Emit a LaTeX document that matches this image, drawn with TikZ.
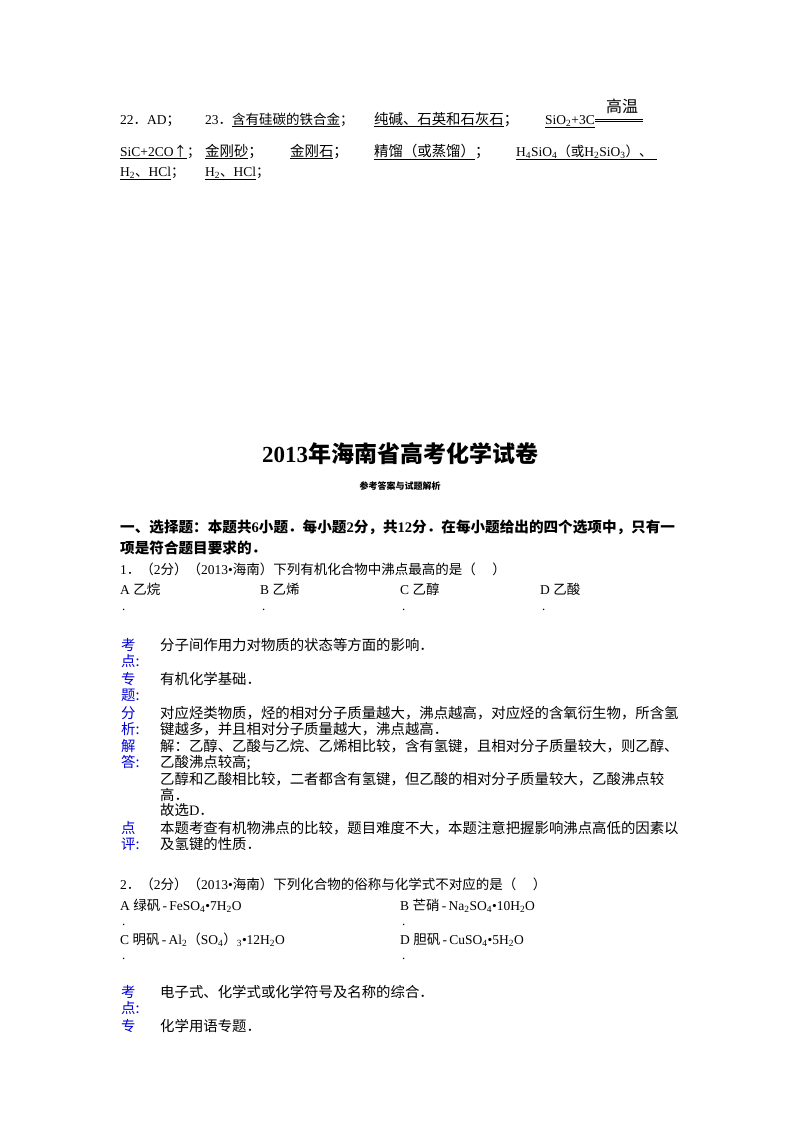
\documentclass[tikz,border=0pt]{standalone}
\usepackage{fontspec}
\setmainfont{Liberation Serif}
\newfontfamily\cjk{Noto Sans CJK SC}
\newcommand{\sbs}[1]{\textsubscript{#1}}
\newcommand{\cj}[1]{{\cjk #1}}
\begin{document}
\begin{tikzpicture}[x=1pt,y=-1pt,
  every node/.style={inner sep=0pt,anchor=base west},
  tx/.style={font=\cjk\fontsize{14.4}{17}\selectfont},
  rm/.style={font=\fontsize{13.5}{16}\selectfont},
  lab/.style={font=\cjk\fontsize{14.4}{17}\selectfont,text=blue!85!black},
  dot/.style={font=\fontsize{13}{16}\selectfont}]
\useasboundingbox (0,0) rectangle (800,1132);
% top answers
\node[rm] (a1) at (120,124) {22\cj{．}AD\cj{；}};
\node[rm] (a2) at (205,124) {23\cj{．}\underline{\cjk 含有硅碳的铁合金}\cj{；}};
\node[tx] (a3) at (374,124) {\underline{纯碱、石英和石灰石}；};
\node[rm] (a4) at (545,124) {\underline{SiO\sbs{2}+3C}};
\node[tx,anchor=base,font=\cjk\fontsize{16}{18}\selectfont] (gw) at (622,112) {高温};
\draw (a4.base east) ++(0,-5) coordinate (e1) -- ++(48,0);
\draw (e1) ++(0,2.5) -- ++(48,0);
\node[rm] (b1) at (120,156) {\underline{SiC+2CO\cj{↑}}\cj{；}};
\node[tx] (b2) at (205,156) {\underline{金刚砂}；};
\node[tx] (b3) at (290,156) {\underline{金刚石}；};
\node[tx] (b4) at (374,156) {\underline{精馏（或蒸馏）}；};
\node[rm] (b5) at (516,156) {\underline{H\sbs{4}SiO\sbs{4}\cj{（或}H\sbs{2}SiO\sbs{3}\cj{）、}\hspace{4pt}}};
\node[rm] (c1) at (120,176) {\underline{H\sbs{2}\cj{、}HCl}\cj{；}};
\node[rm] (c2) at (205,176) {\underline{H\sbs{2}\cj{、}HCl}\cj{；}};
% title
\node[anchor=base,font=\bfseries\fontsize{23}{26}\selectfont] (t) at (400,462) {2013{\cjk\bfseries 年海南省高考化学试卷}};
\node[anchor=base,font=\cjk\bfseries\fontsize{9}{10}\selectfont] (st) at (400,489) {参考答案与试题解析};
\node[font=\cjk\bfseries\fontsize{14.6}{17}\selectfont] (s1) at (120,532) {一、选择题：本题共{\rmfamily\bfseries 6}小题．每小题{\rmfamily\bfseries 2}分，共{\rmfamily\bfseries 12}分．在每小题给出的四个选项中，只有一};
\node[font=\cjk\bfseries\fontsize{14.6}{17}\selectfont] (s2) at (120,553) {项是符合题目要求的．};
% Q1
\node[rm] (q1) at (120,574) {1\cj{．（}2\cj{分）（}2013•\cj{海南）下列有机化合物中沸点最高的是（\quad\ ）}};
\node[rm] (oa) at (120,594) {A \cj{乙烷}};
\node[rm] (ob) at (260,594) {B \cj{乙烯}};
\node[rm] (oc) at (400,594) {C \cj{乙醇}};
\node[rm] (od) at (540,594) {D \cj{乙酸}};
\foreach \x in {122,262,402,542} \node[dot] at (\x,610) {.};
\node[lab] at (121,650) {考};\node[lab] at (121,666) {点:};
\node[tx] (k1) at (160,650) {分子间作用力对物质的状态等方面的影响．};
\node[lab] at (121,684) {专};\node[lab] at (121,700) {题:};
\node[tx] (z1) at (160,684) {有机化学基础．};
\node[lab] at (121,718) {分};\node[lab] at (121,734) {析:};
\node[tx] (f1) at (160,718) {对应烃类物质，烃的相对分子质量越大，沸点越高，对应烃的含氧衍生物，所含氢};
\node[tx] (f2) at (160,734) {键越多，并且相对分子质量越大，沸点越高．};
\node[lab] at (121,751) {解};\node[lab] at (121,767) {答:};
\node[tx] (j1) at (160,751) {解：乙醇、乙酸与乙烷、乙烯相比较，含有氢键，且相对分子质量较大，则乙醇、};
\node[tx] (j2) at (160,767) {乙酸沸点较高;};
\node[tx] (j3) at (160,784) {乙醇和乙酸相比较，二者都含有氢键，但乙酸的相对分子质量较大，乙酸沸点较};
\node[tx] (j4) at (160,800) {高．};
\node[tx] (j5) at (160,815) {故选{\rmfamily D}．};
\node[lab] at (121,833) {点};\node[lab] at (121,849) {评:};
\node[tx] (d1) at (160,833) {本题考查有机物沸点的比较，题目难度不大，本题注意把握影响沸点高低的因素以};
\node[tx] (d2) at (160,849) {及氢键的性质．};
% Q2
\node[rm] (q2) at (120,889) {2\cj{．（}2\cj{分）（}2013•\cj{海南）下列化合物的俗称与化学式不对应的是（\quad\ ）}};
\node[rm] (pa) at (120,910) {A \cj{绿矾}\,-\,FeSO\sbs{4}•7H\sbs{2}O};
\node[rm] (pb) at (400,910) {B \cj{芒硝}\,-\,Na\sbs{2}SO\sbs{4}•10H\sbs{2}O};
\node[rm] (pc) at (120,944) {C \cj{明矾}\,-\,Al\sbs{2}\cj{（}SO\sbs{4}\cj{）}\sbs{3}•12H\sbs{2}O};
\node[rm] (pd) at (400,944) {D \cj{胆矾}\,-\,CuSO\sbs{4}•5H\sbs{2}O};
\foreach \x in {122,402} {\node[dot] at (\x,925) {.};\node[dot] at (\x,959) {.};}
\node[lab] at (121,997) {考};\node[lab] at (121,1013) {点:};
\node[tx] (k2) at (160,997) {电子式、化学式或化学符号及名称的综合．};
\node[lab] at (121,1031) {专};
\node[tx] (z2) at (160,1031) {化学用语专题．};
\end{tikzpicture}
\end{document}
